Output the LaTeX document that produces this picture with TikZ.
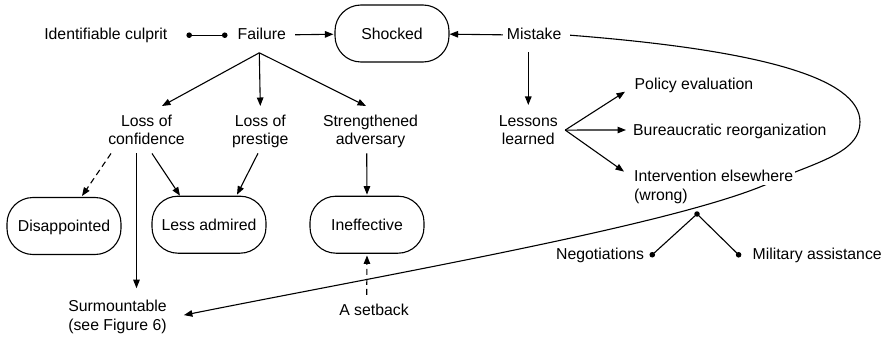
\documentclass[tikz,border=0pt]{standalone}
\usepackage{fontspec}
\setmainfont{Liberation Sans}
\usetikzlibrary{arrows.meta,calc}
\begin{document}
\begin{tikzpicture}[x=1pt,y=-1pt,
  every node/.style={font=\fontsize{15.8}{18.7}\selectfont, inner sep=0pt},
  lbl/.style={text height=11.5pt, text depth=3.3pt},
  multi/.style={align=center, anchor=north},
  state/.style={draw, line width=1.1pt, rounded corners=26pt,
    minimum width=114pt, minimum height=57pt, text height=11.5pt, text depth=0pt},
  link/.style={line width=1.1pt},
  arr/.style={link, -{Triangle[length=8.5pt,width=6.5pt]}},
  dasharr/.style={arr, dash pattern=on 6pt off 4pt},
  bead/.style={link, {Circle[length=5.5pt]}-{Circle[length=5.5pt]}},
  beadend/.style={link, -{Circle[length=5.5pt]}}
]
\useasboundingbox (0,0) rectangle (887,337);

% top row
\node[lbl] (culprit) at (105.8,35.2) {Identifiable culprit};
\node[lbl] (failure) at (261.8,35.2) {Failure};
\node[state] (shocked) at (392,33.5) {Shocked};
\node[lbl] (mistake) at (534.2,35.2) {Mistake};

% consequences of failure
\node[multi] (loc) at (146.5,114.5) {Loss of\\confidence};
\node[multi] (lop) at (260.3,114.5) {Loss of\\prestige};
\node[multi] (stradv) at (370.5,114.5) {Strengthened\\adversary};

\node[state] (disap) at (64,226) {Disappointed};
\node[state] (lessadm) at (209,224.7) {Less admired};
\node[state] (ineff) at (367,224.7) {Ineffective};

\node[multi] (surm) at (117.5,300.2) {Surmountable\\(see Figure 6)};
\node[lbl] (setback) at (374,310.9) {A setback};

% lessons branch
\node[multi] (lessons) at (528.3,115) {Lessons\\learned};
\node[lbl, anchor=west] (policy) at (634.5,85.9) {Policy evaluation};
\node[lbl, anchor=west] (bureau) at (633,131) {Bureaucratic reorganization};

\node[lbl] (negot) at (600.1,255.8) {Negotiations};
\node[lbl] (milit) at (817.2,255.8) {Military assistance};

% long curve from the mistake back to the surmountable outcome
\draw[arr] ($(mistake.east)+(8.5,0)$) .. controls (760,50) and (860,78) .. (860,122)
  .. controls (860,150) and (825,160) .. (780,178)
  .. controls (700,220) and (400,272) .. ($(surm.east)+(17,-2)$);

\node[lbl, anchor=west, fill=white, inner xsep=2pt] (interv) at (632,177.6) {Intervention elsewhere};
\node[lbl, anchor=west] (wrong) at (634,196.6) {(wrong)};

% top row connectors
\draw[bead, shorten <=18.95pt, shorten >=9.95pt] (culprit) -- (failure);
\draw[arr, shorten <=9pt, shorten >=1pt] (failure) -- (shocked);
\draw[arr, shorten <=4pt] (mistake) -- (shocked);
\draw[arr, shorten <=9.5pt, shorten >=10pt] (mistake.south -| lessons.north) -- (lessons.north);

% fan out of failure
\coordinate (ffan) at ($(failure.south)+(-2.5,10)$);
\draw[arr] (ffan) -- ($(loc.north)+(15.5,-8.5)$);
\draw[arr] (ffan) -- ($(lop.north)+(0,-8.5)$);
\draw[arr] (ffan) -- ($(stradv.north)+(-4.5,-8.5)$);

% second level
\draw[dasharr] ($(loc.south)+(-35.5,8.3)$) -- ($(disap.north)+(18,-1)$);
\draw[arr] ($(loc.south)+(-10,8.3)$) -- ($(surm.north)+(19,-12)$);
\draw[arr] ($(loc.south)+(5.5,8.3)$) -- ($(lessadm.north)+(-29,0)$);
\draw[arr] ($(lop.south)+(-2.3,5)$) -- ($(lessadm.north)+(28,-1)$);
\draw[arr] ($(stradv.south)+(-3.8,5)$) -- ($(ineff.north)+(0,-1)$);
\draw[dasharr] ($(setback.north)+(-7.3,-8.5)$) -- ($(ineff.south)+(0,1.7)$);

% fan out of lessons learned
\coordinate (lfan) at ($(lessons.east)+(7.3,0)$);
\draw[arr] (lfan) -- ($(policy.west)+(-9.5,5.8)$);
\draw[arr] (lfan) -- ($(bureau.west)+(-7,-1)$);
\draw[arr] (lfan) -- ($(interv.west)+(-8,-6)$);

% branch hanging from the curve
\coordinate (junc) at (697,214);
\fill (junc) circle (2.75pt);
\draw[beadend] (junc) -- ($(negot.east)+(6,0.8)$);
\draw[beadend] (junc) -- ($(milit.west)+(-11.9,0.9)$);
\end{tikzpicture}
\end{document}
